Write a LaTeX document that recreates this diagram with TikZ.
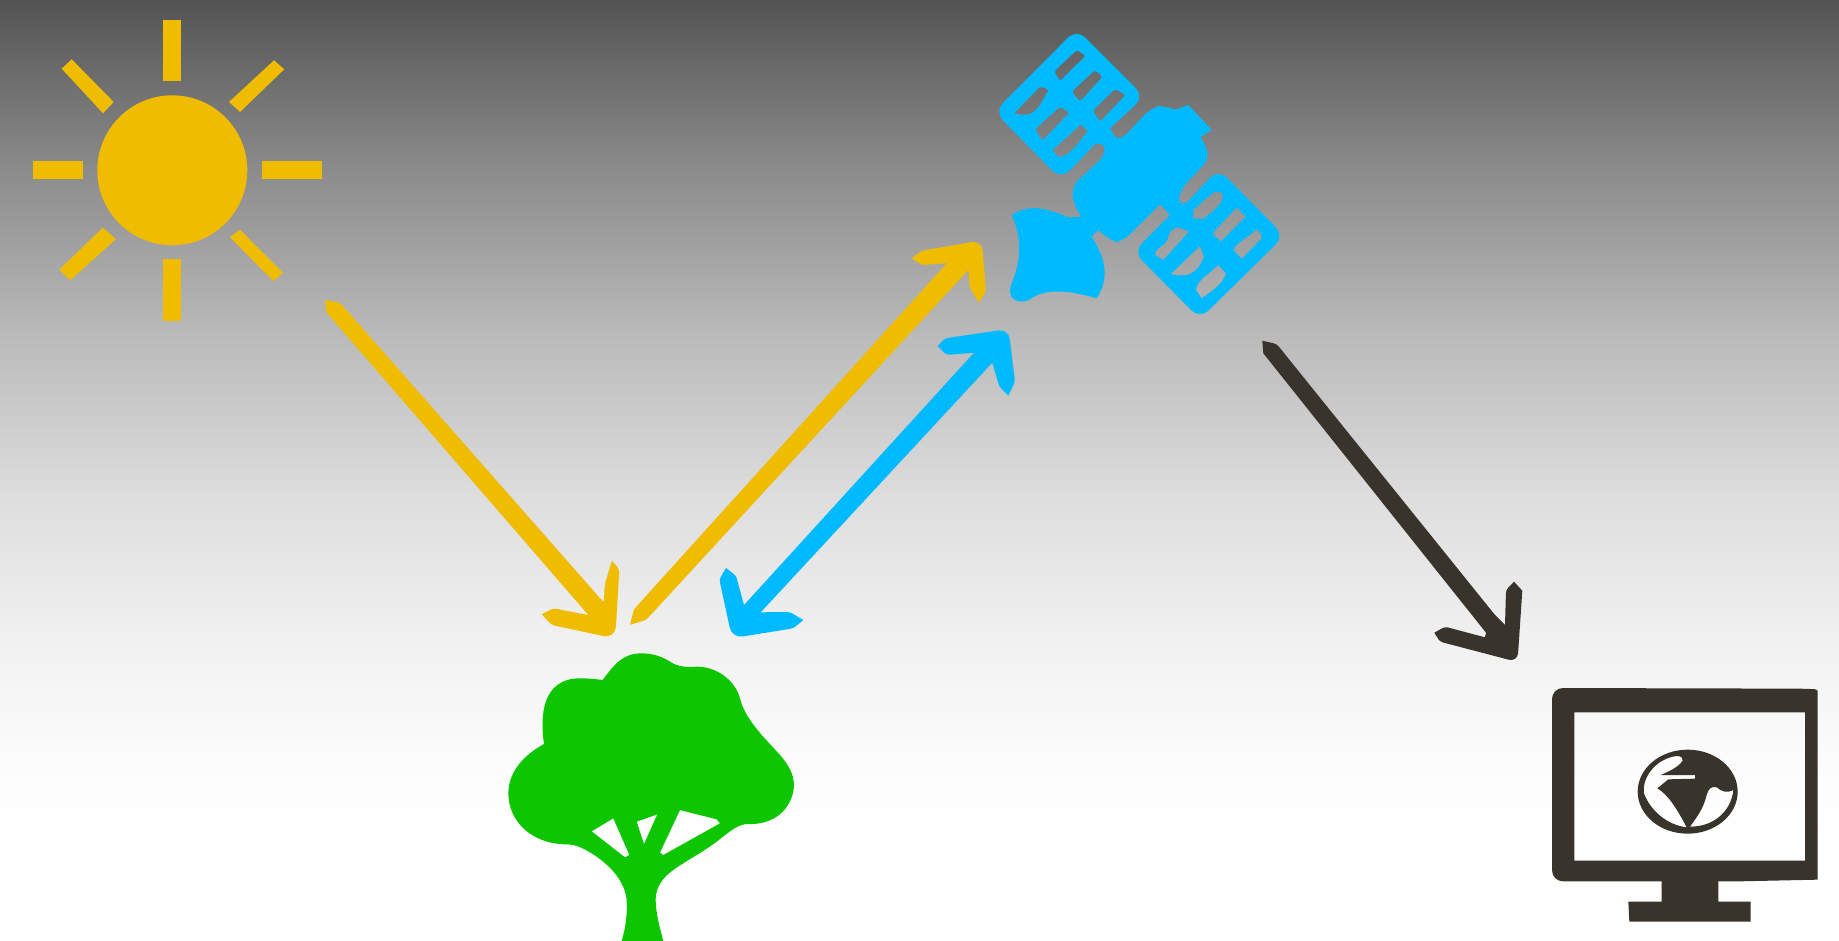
\documentclass[tikz,border=0pt]{standalone}
\definecolor{sunc}{HTML}{EFBC00}
\definecolor{satc}{HTML}{00BAFF}
\definecolor{darkc}{HTML}{38342C}
\definecolor{treec}{HTML}{0EC600}
\definecolor{ga}{HTML}{535353}
\definecolor{gb}{HTML}{8A8A8A}
\definecolor{gc}{HTML}{BAB9B9}
\definecolor{gd}{HTML}{DEDEDE}
\definecolor{ge}{HTML}{F1F1F1}
\definecolor{gf}{HTML}{FCFCFC}
\tikzset{
  zoomed/.style={x=0.33333pt,y=-0.33333pt},
  sunfill/.style={fill=sunc},
  satfill/.style={fill=satc},
  darkfill/.style={fill=darkc},
}
\begin{document}
\begin{tikzpicture}[x=1pt,y=-1pt]
\useasboundingbox (0,0) rectangle (1839,941);
% background
\shade[top color=ga,bottom color=gb] (0,0) rectangle (1839,165.5);
\shade[top color=gb,bottom color=gc] (0,165) rectangle (1839,330.5);
\shade[top color=gc,bottom color=gd] (0,330) rectangle (1839,500.5);
\shade[top color=gd,bottom color=ge] (0,500) rectangle (1839,640.5);
\shade[top color=ge,bottom color=gf] (0,640) rectangle (1839,760.5);
\shade[top color=gf,bottom color=white] (0,760) rectangle (1839,840.5);
\fill[white] (0,840) rectangle (1839,941);
% sun
\fill[sunfill] (172.3,170.3) circle[radius=75];
\fill[sunfill] (163,20.3) rectangle (181.3,81);
\fill[sunfill] (163,259.3) rectangle (181.3,321);
\fill[sunfill] (32.7,160.7) rectangle (82.7,179);
\fill[sunfill] (261.7,160.7) rectangle (322.3,179);
\fill[sunfill] (71.7,59.3) -- (113.7,102) -- (103,113.3) -- (61.7,68.7) -- cycle;
\fill[sunfill] (274,60.3) -- (284.3,69.3) -- (240,112) -- (229,102) -- cycle;
\fill[sunfill] (102.7,227.7) -- (116,239) -- (70.3,280.3) -- (59.3,269.7) -- cycle;
\fill[sunfill] (240,229.7) -- (283,273) -- (273.3,281) -- (230,237.3) -- cycle;
% arrow sun to tree
\fill[sunfill] (325,300) [rounded corners=3pt] -- (340,302.7) -- (601,599.3) [sharp corners] -- (604,602)
  [rounded corners=6pt] -- (604.5,585) [sharp corners] -- (612,560.7) [rounded corners=3pt] -- (619.3,569.3) [rounded corners=12pt] -- (615.3,638.5) [rounded corners=3pt] -- (551.7,625) [sharp corners] -- (541.7,614.3) [rounded corners=3pt] -- (553.3,608.3) [sharp corners] -- (588.3,615) -- (326.7,312.7) -- cycle;
% arrow tree to satellite
\fill[sunfill] (630,624.7) [rounded corners=3pt] -- (646,620) [sharp corners] -- (968.3,270) [rounded corners=4pt] -- (969.3,286.7) [sharp corners] -- (978.7,302.7) [rounded corners=3pt] -- (986,291.7) [rounded corners=10pt] -- (981.8,240.5) [rounded corners=3pt] -- (921.7,250.7) [sharp corners] -- (911.7,258.3) [rounded corners=3pt] -- (921.7,265) [sharp corners] -- (946.7,263.3) -- (634,609.3) -- cycle;
% double arrow
\fill[satfill] (744,605) -- (974,352.7) [rounded corners=3pt] -- (946.7,355) [sharp corners] -- (937.7,346)
  [rounded corners=3pt] -- (945,338.3) [rounded corners=10pt] -- (1008.5,329) [rounded corners=3pt] -- (1015,381.7) [sharp corners] -- (1008.3,395.7) [rounded corners=3pt] -- (999.3,386.7) [sharp corners] -- (992.3,362.7) -- (760.7,612.3) [rounded corners=3pt] -- (790,612) [sharp corners] -- (803.3,620) [rounded corners=3pt] -- (793.3,628.3) [rounded corners=11pt] -- (732,638.2) [rounded corners=3pt] -- (719.3,579.3) [sharp corners] -- (726,568) [rounded corners=3pt] -- (736,575.7) [sharp corners] -- cycle;
% dark arrow
\fill[darkfill] (1262.3,340.7) [rounded corners=3pt] -- (1276.7,344) [sharp corners] -- (1495,615) -- (1505,625) [rounded corners=3pt] -- (1506,590) [sharp corners] -- (1514,581.7) -- (1522.3,590.7) [rounded corners=9pt] -- (1517.5,662) [rounded corners=3pt] -- (1440,641.7) [sharp corners] -- (1434.3,632.7) [rounded corners=3pt] -- (1445,626.7) [sharp corners] -- (1485,637.3) -- (1486,632.7) -- (1263.3,353.3) -- cycle;
% satellite
\begin{scope}[shift={(980,20)},zoomed]
\fill[satfill,even odd rule]
  [rounded corners=12pt] (43,275) -- (290,27) -- (493,230) [sharp corners] -- (390,325)
  [rounded corners=4pt] -- (410,358) -- (432,350)
  [rounded corners=10pt] -- (515,262) -- (555,255)
  [sharp corners] .. controls (585,270) and (600,265) .. (625,255) -- (695,330) -- (662,350)
  [rounded corners=10pt] -- (692,412) -- (600,510)
  [rounded corners=3pt] -- (595,545) -- (615,553)
  [rounded corners=12pt] -- (715,447) -- (913,648) -- (660,897) -- (460,695)
  [sharp corners] -- (570,585) -- (540,553)
  [rounded corners=10pt] -- (425,668) -- (395,665)
  [sharp corners] -- (355,630) -- (335,650)
  .. controls (360,690) and (400,760) .. (350,835)
  .. controls (280,815) and (200,800) .. (150,838)
  .. controls (120,855) and (75,840) .. (95,790)
  .. controls (125,720) and (125,650) .. (95,585)
  .. controls (150,550) and (200,565) .. (265,592) -- (305,590)
  .. controls (280,560) and (265,510) .. (295,480)
  -- (355,425) .. controls (375,405) and (385,375) .. (355,370)
  .. controls (340,370) and (330,390) .. (300,420)
  [rounded corners=12pt] -- (243,478) -- cycle
  [rounded corners=2pt]
  (290,90) -- (317,107) -- (240,183) -- (222,155) -- cycle
  [rounded corners=3pt] (345,150) -- (368,170) -- (300,245) -- (275,215) -- cycle
  [rounded corners=2pt] (405,207) -- (437,225) -- (360,305) -- (338,272) -- cycle
  [sharp corners]
  (178,202) .. controls (190,200) and (200,205) .. (205,213) .. controls (180,245) and (175,300) .. (102,280) -- cycle
  [rounded corners=2pt] (240,260) -- (268,278) -- (187,362) -- (165,328) -- cycle
  [sharp corners]
  (303,313) -- (323,333) .. controls (290,375) and (265,415) .. (232,410) -- (218,390) -- cycle
  (700,517) .. controls (715,515) and (725,518) .. (728,522) .. controls (730,555) and (700,570) .. (670,597) -- (640,595) -- (640,570) -- cycle
  (770,562) -- (797,590) -- (722,665) -- (697,640) -- cycle
  (830,627) .. controls (845,640) and (845,650) .. (845,655) -- (785,717) -- (760,690) .. controls (770,665) and (810,650) .. (830,627) -- cycle
  (595,622) -- (627,635) -- (550,720) -- (525,705) .. controls (525,680) and (560,680) .. (565,650) .. controls (570,630) and (580,625) .. (595,622) -- cycle
  (660,678) -- (672,710) .. controls (660,740) and (640,780) .. (572,762) -- cycle
  (715,735) -- (738,760) .. controls (730,790) and (700,810) .. (665,835) -- (648,810) .. controls (650,780) and (690,760) .. (715,735) -- cycle;
\end{scope}
% tree
\begin{scope}[shift={(490,630)},zoomed]
\fill[treec,even odd rule]
  (338,150) .. controls (375,100) and (400,70) .. (455,70)
  .. controls (500,70) and (530,88) .. (545,98)
  .. controls (565,110) and (590,112) .. (620,110)
  .. controls (680,110) and (735,150) .. (750,205)
  .. controls (765,270) and (830,330) .. (870,375)
  .. controls (895,405) and (912,430) .. (912,470)
  .. controls (905,540) and (850,585) .. (775,582)
  .. controls (745,582) and (725,600) .. (680,635)
  .. controls (640,665) and (610,680) .. (580,700)
  .. controls (530,730) and (497,760) .. (497,810)
  .. controls (497,850) and (510,895) .. (520,933)
  -- (395,933)
  .. controls (408,890) and (412,850) .. (410,810)
  .. controls (405,760) and (370,715) .. (320,680)
  .. controls (275,650) and (255,643) .. (225,643)
  .. controls (120,640) and (55,570) .. (55,490)
  .. controls (55,420) and (110,370) .. (162,342)
  .. controls (150,260) and (155,145) .. (270,145)
  .. controls (295,145) and (315,147) .. (338,150) -- cycle
  (305,604) -- (370,565) -- (418,675) -- (405,682) -- cycle
  (440,575) -- (502,553) -- (462,642) -- cycle
  (570,540) -- (680,568) -- (690,580) -- (520,675) -- (510,668) -- cycle;
\end{scope}
% monitor
\begin{scope}[shift={(1540,680)},zoomed]
\fill[darkfill,even odd rule]
  [rounded corners=11pt] (36,24) -- (800,26) [sharp corners] .. controls (815,27) and (825,28) .. (833,32) -- (833,599) -- (600,604)
  [rounded corners=11pt] -- (36,604) -- cycle
  [sharp corners]
  (103,97) -- (795,97) -- (795,542) -- (103,542) -- cycle
  (443,335) ellipse[x radius=150,y radius=126]
  (410,228) .. controls (425,228) and (430,235) .. (428,242) .. controls (415,262) and (385,275) .. (362,285)
  -- (465,285) -- (465,296) -- (385,298) -- (352,325)
  .. controls (385,345) and (410,385) .. (440,442)
  .. controls (380,435) and (330,390) .. (312,340)
  .. controls (305,290) and (350,235) .. (410,228) -- cycle
  (450,440) .. controls (475,405) and (490,385) .. (500,345)
  .. controls (505,325) and (515,318) .. (530,322)
  .. controls (545,335) and (560,340) .. (580,330)
  .. controls (575,385) and (530,440) .. (450,440) -- cycle;
\fill[darkfill] (365,600) -- (535,600) -- (535,665) -- (632,665) -- (632,725) -- (268,725) -- (265,665) -- (365,665) -- cycle;
\end{scope}
\end{tikzpicture}
\end{document}
